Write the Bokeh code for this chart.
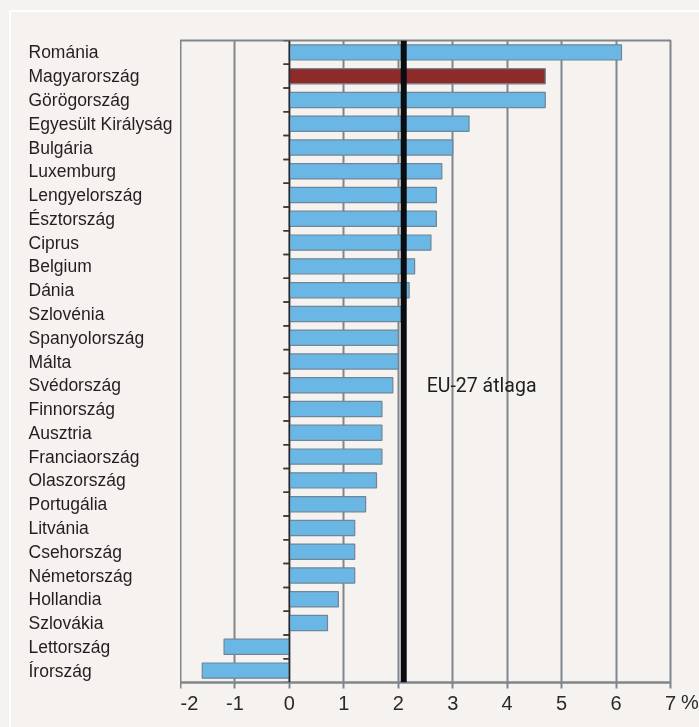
import numpy as np
from bokeh.plotting import figure
from bokeh.layouts import row
from bokeh.models import FactorRange, Range1d, Span, FixedTicker, ColumnDataSource
from bokeh.transform import dodge
from bokeh.core.properties import value
from bokeh.embed import file_html
from bokeh.resources import INLINE

# ---- data ----
countries = ["Románia", "Magyarország", "Görögország", "Egyesült Királyság", "Bulgária",
             "Luxemburg", "Lengyelország", "Észtország", "Ciprus", "Belgium", "Dánia",
             "Szlovénia", "Spanyolország", "Málta", "Svédország", "Finnország", "Ausztria",
             "Franciaország", "Olaszország", "Portugália", "Litvánia", "Csehország",
             "Németország", "Hollandia", "Szlovákia", "Lettország", "Írország"]
values = [6.1, 4.7, 4.7, 3.3, 3.0, 2.8, 2.7, 2.7, 2.6, 2.3, 2.2, 2.1, 2.0, 2.0, 1.9,
          1.7, 1.7, 1.7, 1.6, 1.4, 1.2, 1.2, 1.2, 0.9, 0.7, -1.2, -1.6]
highlight = "Magyarország"
eu_avg = 2.1
avg_label = "EU-27 átlaga"
avg_label_row = "Svédország"
x_ticks = [-2, -1, 0, 1, 2, 3, 4, 5, 6, 7]
x_tick_labels = ["-2", "-1", "0", "1", "2", "3", "4", "5", "6", "7"]
unit_label = "%"

# ---- style ----
BG = "#f6f2ef"
BLUE = "#6ab6e4"
RED = "#8e2a28"
GRID = "#80868e"
FONT = "Liberation Sans"

colors = [RED if c == highlight else BLUE for c in countries]
src = ColumnDataSource(dict(country=countries, value=values, color=colors))

y_range = FactorRange(factors=countries[::-1], range_padding=0)

H = 720
TOP = 40
BOT = 38

common = dict(output_backend="svg", toolbar_location=None,
              background_fill_color=None, border_fill_color=None)


def style_axis(ax, standoff=7):
    ax.minor_tick_line_color = None
    ax.major_tick_out = 6
    ax.major_tick_in = 0
    ax.major_label_standoff = standoff
    ax.major_label_text_font = FONT
    ax.major_label_text_font_size = "20px"
    ax.major_label_text_color = "#2a2a2a"


# left: category labels
pl = figure(width=180, height=H, y_range=y_range, x_range=Range1d(0, 180),
            x_axis_location=None, y_axis_location=None,
            min_border_left=0, min_border_right=0, min_border_top=TOP, min_border_bottom=BOT,
            outline_line_color=None, **common)
pl.grid.visible = False
pl.text(x=28, y="country", text="country", source=src, text_baseline="middle",
        text_align="left", text_font=value(FONT), text_font_size="17.5px", text_color="#231f20")

# middle: chart
p = figure(width=500, height=H, y_range=y_range, x_range=Range1d(x_ticks[0], x_ticks[-1]),
           y_axis_location=None,
           min_border_left=0, min_border_right=10, min_border_top=TOP, min_border_bottom=BOT,
           outline_line_color=GRID, outline_line_width=2, **common)

style_axis(p.xaxis[0])
p.xaxis.ticker = FixedTicker(ticks=x_ticks)
p.xaxis.major_label_overrides = {t: s for t, s in zip(x_ticks, x_tick_labels)}
p.xaxis.axis_line_color = GRID
p.xaxis.axis_line_width = 2
p.xaxis.major_tick_line_color = GRID
p.xaxis.major_tick_line_width = 2

p.xgrid.ticker = FixedTicker(ticks=x_ticks)
p.xgrid.grid_line_color = GRID
p.xgrid.grid_line_width = 2
p.ygrid.visible = False

p.hbar(y="country", left=0, right="value", height=0.64, fill_color="color",
       line_color="#6f8698", line_width=1.2, source=src)

# zero axis with category boundary ticks
tick_len = 0.11
p.segment(x0=-tick_len, x1=0, y0=dodge("country", 0.5, range=y_range),
          y1=dodge("country", 0.5, range=y_range), line_color="#3a3a3a", line_width=1.5, source=src)
p.segment(x0=-tick_len, x1=0, y0=dodge("country", -0.5, range=y_range),
          y1=dodge("country", -0.5, range=y_range), line_color="#3a3a3a", line_width=1.5, source=src)
p.add_layout(Span(location=0, dimension="height", line_color="#2a2a2a", line_width=1.5))

# EU average
p.add_layout(Span(location=eu_avg, dimension="height", line_color="#0b0c10", line_width=6))
p.text(x=[eu_avg], y=[avg_label_row], text=[avg_label], x_offset=23, text_baseline="middle",
       text_font=value("Roboto"), text_font_size="19.5px", text_font_style="normal",
       text_color="#1e1e1e")

# right: unit label beside the last x tick (as an axis label of a tiny panel)
pr = figure(width=19, height=H, x_range=Range1d(0, 1), y_range=y_range,
            y_axis_location=None,
            min_border_left=0, min_border_right=0, min_border_top=TOP, min_border_bottom=BOT,
            outline_line_color=None, **common)
pr.grid.visible = False
style_axis(pr.xaxis[0], standoff=2)
pr.xaxis.ticker = FixedTicker(ticks=[0.5])
pr.xaxis.major_label_overrides = {0.5: unit_label}
pr.xaxis.axis_line_color = None
pr.xaxis.major_tick_line_color = None

layout = row(pl, p, pr)
html = file_html(layout, INLINE)
css = ("<style>html,body{background:%s;}"
       "body::before{content:'';position:fixed;left:9px;top:10px;width:100%%;height:100%%;"
       "border-left:2px solid #ffffff;border-top:2px solid #ffffff;pointer-events:none;}</style>") % BG
html = html.replace("<head>", "<head>" + css, 1)
open("out.html", "w").write(html)
